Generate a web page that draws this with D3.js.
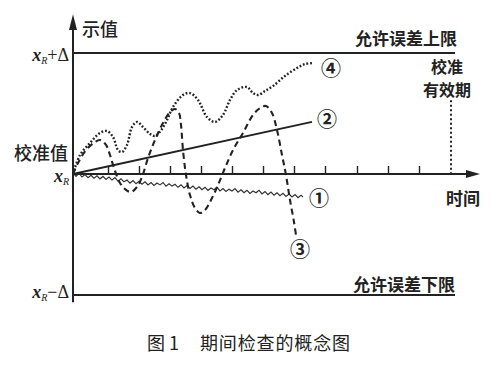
<!DOCTYPE html>
<html>
<head>
<meta charset="utf-8">
<script src="https://cdn.jsdelivr.net/npm/d3@7"></script>
<style>
  html, body { margin: 0; padding: 0; background: #fff; }
  svg { display: block; }
  .cjk { font-family: "Noto Sans CJK SC", sans-serif; fill: #222; }
  .math { font-family: "Liberation Serif", "DejaVu Serif", serif; fill: #222; }
</style>
</head>
<body>
<svg width="500" height="365"></svg>
<script>
(function(){
  'use strict';

  // time axis ticks (same units as the curves) and end of validity period
  var tickTimes = [35, 66, 97, 128, 159, 190, 221, 252, 284, 315, 346];
  var validityEnd = 378;

  // curve 1: slow drift with noise
  var drift = [
    [0,0.1],[3,-0.2],[6,0.05],[9,-0.25],[12,-0.05],[15,-0.3],[18,-0.1],[21,-0.35],
    [24,-0.15],[27,-0.4],[30,-0.2],[33,-0.45],[36,-0.25],[39,-0.5],[42,-0.3],[45,-0.6],
    [48,-0.4],[51,-0.65],[54,-0.5],[57,-0.75],[60,-0.55],[63,-0.8],[66,-0.6],[69,-0.85],
    [72,-0.65],[75,-0.9],[78,-0.7],[81,-0.95],[84,-0.75],[87,-0.9],[90,-0.7],[93,-1.0],
    [96,-0.8],[99,-1.0],[102,-0.85],[105,-1.1],[108,-0.9],[111,-1.15],[114,-0.95],[117,-1.2],
    [120,-1.0],[123,-1.25],[126,-1.05],[129,-1.3],[132,-1.1],[135,-1.35],[138,-1.15],[141,-1.3],
    [144,-1.1],[147,-1.4],[150,-1.2],[153,-1.45],[156,-1.25],[159,-1.4],[162,-1.2],[165,-1.5],
    [168,-1.3],[171,-1.55],[174,-1.35],[177,-1.6],[180,-1.4],[183,-1.55],[186,-1.35],[189,-1.65],
    [192,-1.45],[195,-1.7],[198,-1.5],[201,-1.75],[204,-1.55],[207,-1.8],[210,-1.6],[213,-1.85],
    [216,-1.65],[219,-1.9],[222,-1.7],[225,-1.95],[228,-1.75],[230,-1.9]
  ];

  // curve 2: linear trend
  var trend = [[0, 0], [239, 4.3]];

  // curve 3: large oscillation (dashed)
  var swing = [
    [0,0],[5,0.91],[13,1.98],[22,2.64],[27,2.81],[33,2.4],[37,1.57],[41,0.5],[47,-0.74],
    [53,-1.32],[58,-1.49],[64,-1.07],[69,-0.25],[75,1.32],[82,2.81],[90,4.21],[97,5.12],
    [102,5.37],[106,5.04],[108,4.05],[110,1.98],[113,-0.08],[117,-1.74],[122,-2.81],
    [127,-3.22],[132,-2.98],[138,-2.15],[145,-0.91],[152,0.5],[160,1.98],[170,3.39],
    [180,4.88],[187,5.45],[193,5.62],[199,5.04],[204,3.64],[209,1.57],[213,-0.08],
    [217,-2.15],[221,-3.97],[223,-5.04]
  ];

  // curve 4: rising oscillation (dotted)
  var climb = [
    [0,0],[7,1.57],[17,2.56],[27,3.39],[34,3.55],[40,3.06],[45,1.98],[49,1.82],[54,2.4],
    [59,3.88],[64,4.3],[70,3.88],[77,3.31],[82,3.14],[88,3.6],[94,4.46],[100,5.54],
    [110,6.53],[117,6.69],[125,6.12],[134,4.71],[142,4.3],[150,4.88],[157,6.12],[164,6.94],
    [174,7.19],[180,6.69],[185,6.53],[192,6.86],[200,7.27],[212,8.1],[224,8.76],
    [232,9.09],[240,9.17]
  ];

  var svg = d3.select('svg');
  var x = d3.scaleLinear().domain([0, 400]).range([73, 473]);
  var y = d3.scaleLinear().domain([-10, 10]).range([295, 53]);
  var ink = '#222';

  // limit lines
  [10, -10].forEach(function(v) {
    svg.append('line')
      .attr('x1', x(0)).attr('x2', x(382))
      .attr('y1', y(v)).attr('y2', y(v))
      .attr('stroke', ink).attr('stroke-width', 2);
  });

  // axes
  svg.append('line')
    .attr('x1', x(0)).attr('x2', x(0))
    .attr('y1', y(-10.6)).attr('y2', y(12.2))
    .attr('stroke', ink).attr('stroke-width', 2);
  svg.append('path')
    .attr('d', 'M' + [x(0), y(13.2)] + 'L' + [x(0) - 4, y(11.9)] + 'L' + [x(0) + 4, y(11.9)] + 'Z')
    .attr('fill', ink);

  svg.append('line')
    .attr('x1', x(0)).attr('x2', x(395))
    .attr('y1', y(0)).attr('y2', y(0))
    .attr('stroke', ink).attr('stroke-width', 2);
  svg.append('path')
    .attr('d', 'M' + [x(407), y(0)] + 'L' + [x(393), y(0) - 4] + 'L' + [x(393), y(0) + 4] + 'Z')
    .attr('fill', ink);

  var axis = svg.append('g')
    .attr('transform', 'translate(0,' + y(0) + ')')
    .call(d3.axisTop(x).tickValues(tickTimes).tickSize(8).tickFormat(''));
  axis.select('.domain').remove();
  axis.selectAll('line').attr('stroke', ink).attr('stroke-width', 1.4);

  // validity period marker
  svg.append('line')
    .attr('x1', x(validityEnd)).attr('x2', x(validityEnd))
    .attr('y1', y(6.1)).attr('y2', y(0))
    .attr('stroke', ink).attr('stroke-width', 2)
    .attr('stroke-dasharray', '2,2.5');

  var line = d3.line()
    .x(function(d) { return x(d[0]); })
    .y(function(d) { return y(d[1]); });
  var smooth = d3.line()
    .x(function(d) { return x(d[0]); })
    .y(function(d) { return y(d[1]); })
    .curve(d3.curveCatmullRom);

  svg.append('path').attr('d', line(drift))
    .attr('fill', 'none').attr('stroke', '#333').attr('stroke-width', 1.2);
  svg.append('path').attr('d', line(trend))
    .attr('fill', 'none').attr('stroke', ink).attr('stroke-width', 1.8);
  svg.append('path').attr('d', smooth(swing))
    .attr('fill', 'none').attr('stroke', ink).attr('stroke-width', 2.1)
    .attr('stroke-dasharray', '6,4');
  svg.append('path').attr('d', smooth(climb))
    .attr('fill', 'none').attr('stroke', ink).attr('stroke-width', 2.4)
    .attr('stroke-dasharray', '1.8,1.9');

  // curve numbers
  var marks = [
    {s: '①', p: drift[drift.length - 1], dx: 16, dy: 1},
    {s: '②', p: trend[1], dx: 15, dy: -3},
    {s: '③', p: swing[swing.length - 1], dx: 4, dy: 14},
    {s: '④', p: climb[climb.length - 1], dx: 18, dy: 4}
  ];
  svg.selectAll('text.num').data(marks).enter().append('text')
    .attr('class', 'cjk')
    .attr('x', function(d) { return x(d.p[0]) + d.dx; })
    .attr('y', function(d) { return y(d.p[1]) + d.dy; })
    .attr('text-anchor', 'middle').attr('dominant-baseline', 'central')
    .style('font-size', '20px').style('font-weight', 700)
    .text(function(d) { return d.s; });

  function label(txt, px, py, anchor, size, weight) {
    svg.append('text').attr('class', 'cjk')
      .attr('x', px).attr('y', py)
      .attr('text-anchor', anchor).attr('dominant-baseline', 'central')
      .style('font-size', size + 'px').style('font-weight', weight || 400)
      .text(txt);
  }

  label('示值', x(0) + 9, 28, 'start', 18, 500);
  label('校准值', 68, 152, 'end', 18, 500);
  label('允许误差上限', x(384), y(10) - 16, 'end', 17, 700);
  label('允许误差下限', x(382), y(-10) - 12, 'end', 17, 700);
  label('校准', x(validityEnd) - 4, 66, 'middle', 16, 700);
  label('有效期', x(validityEnd) - 4, 89, 'middle', 16, 700);
  label('时间', 463, 197, 'middle', 17, 700);

  // x_R style labels
  function xr(py, suffix) {
    var t = svg.append('text').attr('class', 'math')
      .attr('x', 69).attr('y', py)
      .attr('text-anchor', 'end').attr('dominant-baseline', 'central')
      .style('font-size', '18px');
    t.append('tspan').style('font-style', 'italic').style('font-weight', 700).text('x');
    t.append('tspan').style('font-style', 'italic').style('font-size', '10px')
      .attr('dy', 5).text('R');
    if (suffix) {
      t.append('tspan').attr('dy', -5).text(suffix);
    }
  }
  xr(y(10) + 2, '+Δ');
  xr(y(0) + 2, '');
  xr(y(-10) - 3, '−Δ');

  // caption
  svg.append('text').attr('class', 'cjk')
    .attr('x', 147).attr('y', 342)
    .attr('dominant-baseline', 'central')
    .style('font-size', '18px').style('font-weight', 400).style('fill', '#222')
    .text('图 1');
  svg.append('text').attr('class', 'cjk')
    .attr('x', 200).attr('y', 342)
    .attr('dominant-baseline', 'central')
    .attr('textLength', 150)
    .style('font-size', '18px').style('font-weight', 400).style('fill', '#222')
    .text('期间检查的概念图');
})();
</script>
</body>
</html>
